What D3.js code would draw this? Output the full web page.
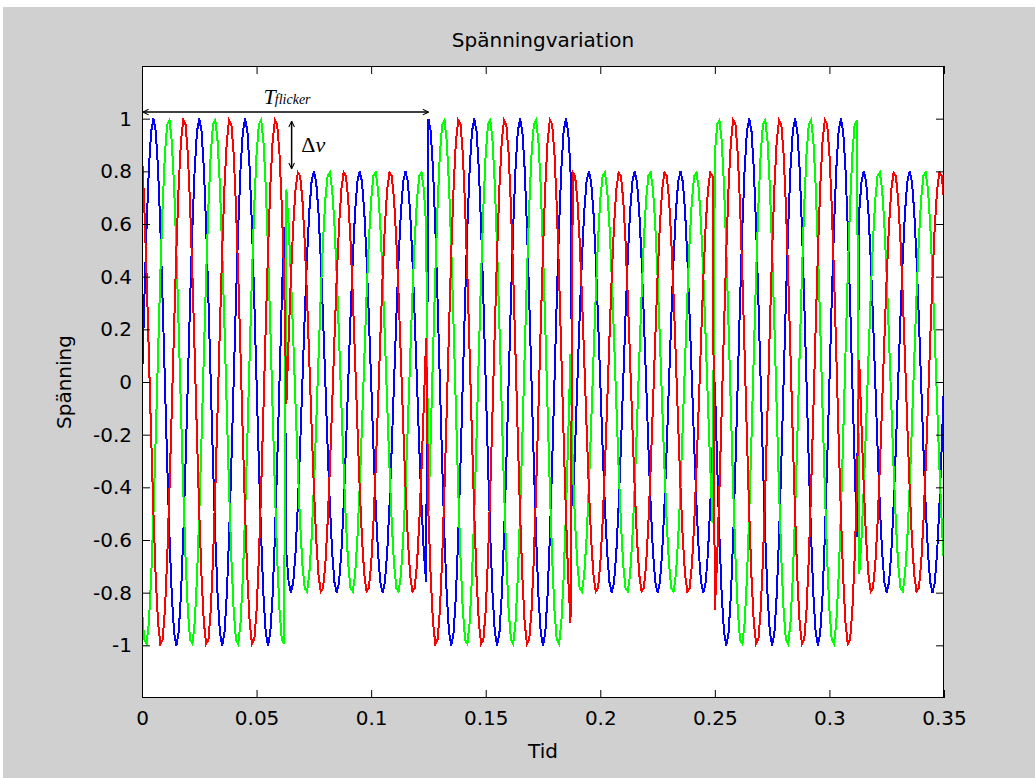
<!DOCTYPE html>
<html>
<head>
<meta charset="utf-8">
<script src="https://cdn.jsdelivr.net/npm/d3@7"></script>
<style>
  body { margin: 0; background: #fff; }
  svg { display: block; }
</style>
</head>
<body>
<div id="chart"></div>
<script>
// envelope of the three-phase voltage: switching instants (s) and the
// amplitude held between them (negative = phase reversed)
var switchTimes = [0, 0.0625, 0.125, 0.1875, 0.25, 0.3125, 0.35];
var amplitudes = [1, -0.8, 1, -0.8, 1, -0.8];

// the three phases
var phaseShiftsDeg = [0, -120, 120];
var phaseColors = ["#0000ff", "#00ff00", "#ff0000"];
var freqHz = 50;
var sampleRate = 1000;

var xTicks = [0, 0.05, 0.1, 0.15, 0.2, 0.25, 0.3, 0.35];
var xTickLabels = ["0", "0.05", "0.1", "0.15", "0.2", "0.25", "0.3", "0.35"];
var yTicks = [-1, -0.8, -0.6, -0.4, -0.2, 0, 0.2, 0.4, 0.6, 0.8, 1];
var yTickLabels = ["-1", "-0.8", "-0.6", "-0.4", "-0.2", "0", "0.2", "0.4", "0.6", "0.8", "1"];

var width = 1035, height = 778;
var plotLeft = 142, plotRight = 944, plotTop = 66, plotBottom = 698;
var sans = "DejaVu Sans, sans-serif";
var serif = "Liberation Serif, Times New Roman, serif";

var svg = d3.select("#chart").append("svg")
  .attr("width", width)
  .attr("height", height);

// figure background
svg.append("rect")
  .attr("x", 3).attr("y", 7)
  .attr("width", width - 3).attr("height", height - 7)
  .attr("fill", "#d0d0d0");

var x = d3.scaleLinear().domain([0, 0.35]).range([plotLeft, plotRight]);
var y = d3.scaleLinear().domain([-1.2, 1.2]).range([plotBottom, plotTop]);

svg.append("rect")
  .attr("x", plotLeft).attr("y", plotTop)
  .attr("width", plotRight - plotLeft).attr("height", plotBottom - plotTop)
  .attr("fill", "#fff");

svg.append("clipPath").attr("id", "plotclip")
  .append("rect")
  .attr("x", plotLeft).attr("y", plotTop)
  .attr("width", plotRight - plotLeft).attr("height", plotBottom - plotTop);

// build sampled signals
var nSamples = Math.round(switchTimes[switchTimes.length - 1] * sampleRate);
var times = d3.range(nSamples + 1).map(function(i) { return i / sampleRate; });
var envelope = function(t) {
  for (var k = 0; k < amplitudes.length; k++) {
    if (t < switchTimes[k + 1]) return amplitudes[k];
  }
  return amplitudes[amplitudes.length - 1];
};
var series = phaseShiftsDeg.map(function(ph, i) {
  return {
    color: phaseColors[i],
    values: times.map(function(t) {
      return { t: t, v: envelope(t) * Math.sin(2 * Math.PI * freqHz * t + ph * Math.PI / 180) };
    })
  };
});

var line = d3.line()
  .x(function(d) { return x(d.t); })
  .y(function(d) { return y(d.v); });

svg.append("g")
  .attr("clip-path", "url(#plotclip)")
  .selectAll("path")
  .data(series)
  .enter().append("path")
  .attr("d", function(d) { return line(d.values); })
  .attr("fill", "none")
  .attr("stroke", function(d) { return d.color; })
  .attr("stroke-width", 2)
  .attr("shape-rendering", "crispEdges");

// axes, MATLAB style: ticks inside on all four sides
var fmtX = function(d) { return xTickLabels[xTicks.indexOf(d)]; };
var fmtY = function(d) { return yTickLabels[yTicks.indexOf(d)]; };

var gx = svg.append("g")
  .attr("transform", "translate(0," + plotBottom + ")")
  .call(d3.axisBottom(x).tickValues(xTicks).tickFormat(fmtX)
    .tickSizeInner(-8).tickSizeOuter(0).tickPadding(13));
var gy = svg.append("g")
  .attr("transform", "translate(" + plotLeft + ",0)")
  .call(d3.axisLeft(y).tickValues(yTicks).tickFormat(fmtY)
    .tickSizeInner(-8).tickSizeOuter(0).tickPadding(10));
var gxt = svg.append("g")
  .attr("transform", "translate(0," + plotTop + ")")
  .call(d3.axisTop(x).tickValues(xTicks).tickFormat("")
    .tickSizeInner(-8).tickSizeOuter(0));
var gyr = svg.append("g")
  .attr("transform", "translate(" + plotRight + ",0)")
  .call(d3.axisRight(y).tickValues(yTicks).tickFormat("")
    .tickSizeInner(-8).tickSizeOuter(0));

[gx, gy, gxt, gyr].forEach(function(g) {
  g.select(".domain").remove();
  g.attr("font-size", 20).attr("font-family", sans);
  g.selectAll("text").attr("fill", "#000");
  g.selectAll("line").attr("stroke", "#000");
});

svg.append("rect")
  .attr("x", plotLeft + 0.5).attr("y", plotTop + 0.5)
  .attr("width", plotRight - plotLeft - 1).attr("height", plotBottom - plotTop - 1)
  .attr("fill", "none")
  .attr("stroke", "#000")
  .attr("stroke-width", 1);

// labels
svg.append("text")
  .attr("x", (plotLeft + plotRight) / 2).attr("y", 47)
  .attr("text-anchor", "middle")
  .attr("font-family", sans)
  .attr("font-size", 20)
  .text("Spänningvariation");

svg.append("text")
  .attr("x", (plotLeft + plotRight) / 2).attr("y", 758)
  .attr("text-anchor", "middle")
  .attr("font-family", sans)
  .attr("font-size", 20)
  .text("Tid");

svg.append("text")
  .attr("transform", "translate(71," + (plotTop + plotBottom) / 2 + ") rotate(-90)")
  .attr("text-anchor", "middle")
  .attr("font-family", sans)
  .attr("font-size", 20)
  .text("Spänning");

// annotations
var defs = svg.append("defs");
defs.append("marker")
  .attr("id", "chev")
  .attr("viewBox", "0 0 10 10")
  .attr("refX", 9).attr("refY", 5)
  .attr("markerWidth", 7).attr("markerHeight", 7)
  .attr("markerUnits", "userSpaceOnUse")
  .attr("orient", "auto-start-reverse")
  .append("path")
  .attr("d", "M1,1 L9,5 L1,9")
  .attr("fill", "none")
  .attr("stroke", "#000")
  .attr("stroke-width", 1.5);

var tFlicker = 0.125;
svg.append("line")
  .attr("x1", x(0) + 1).attr("x2", x(tFlicker))
  .attr("y1", y(1.025)).attr("y2", y(1.025))
  .attr("stroke", "#000").attr("stroke-width", 1.5)
  .attr("marker-start", "url(#chev)")
  .attr("marker-end", "url(#chev)");

var tl = svg.append("text")
  .attr("x", x(0.0633)).attr("y", y(1.056))
  .attr("text-anchor", "middle")
  .attr("font-family", serif)
  .attr("font-style", "italic");
tl.append("tspan").attr("font-size", 22).text("T");
tl.append("tspan").attr("font-size", 14).attr("dx", -1).text("flicker");

svg.append("line")
  .attr("x1", x(0.0653)).attr("x2", x(0.0653))
  .attr("y1", y(0.99)).attr("y2", y(0.81))
  .attr("stroke", "#000").attr("stroke-width", 1.5)
  .attr("marker-start", "url(#chev)")
  .attr("marker-end", "url(#chev)");

var dv = svg.append("text")
  .attr("x", x(0.0695)).attr("y", y(0.874))
  .attr("font-family", serif)
  .attr("font-size", 22);
dv.append("tspan").text("Δ");
dv.append("tspan").attr("font-style", "italic").text("v");
</script>
</body>
</html>
